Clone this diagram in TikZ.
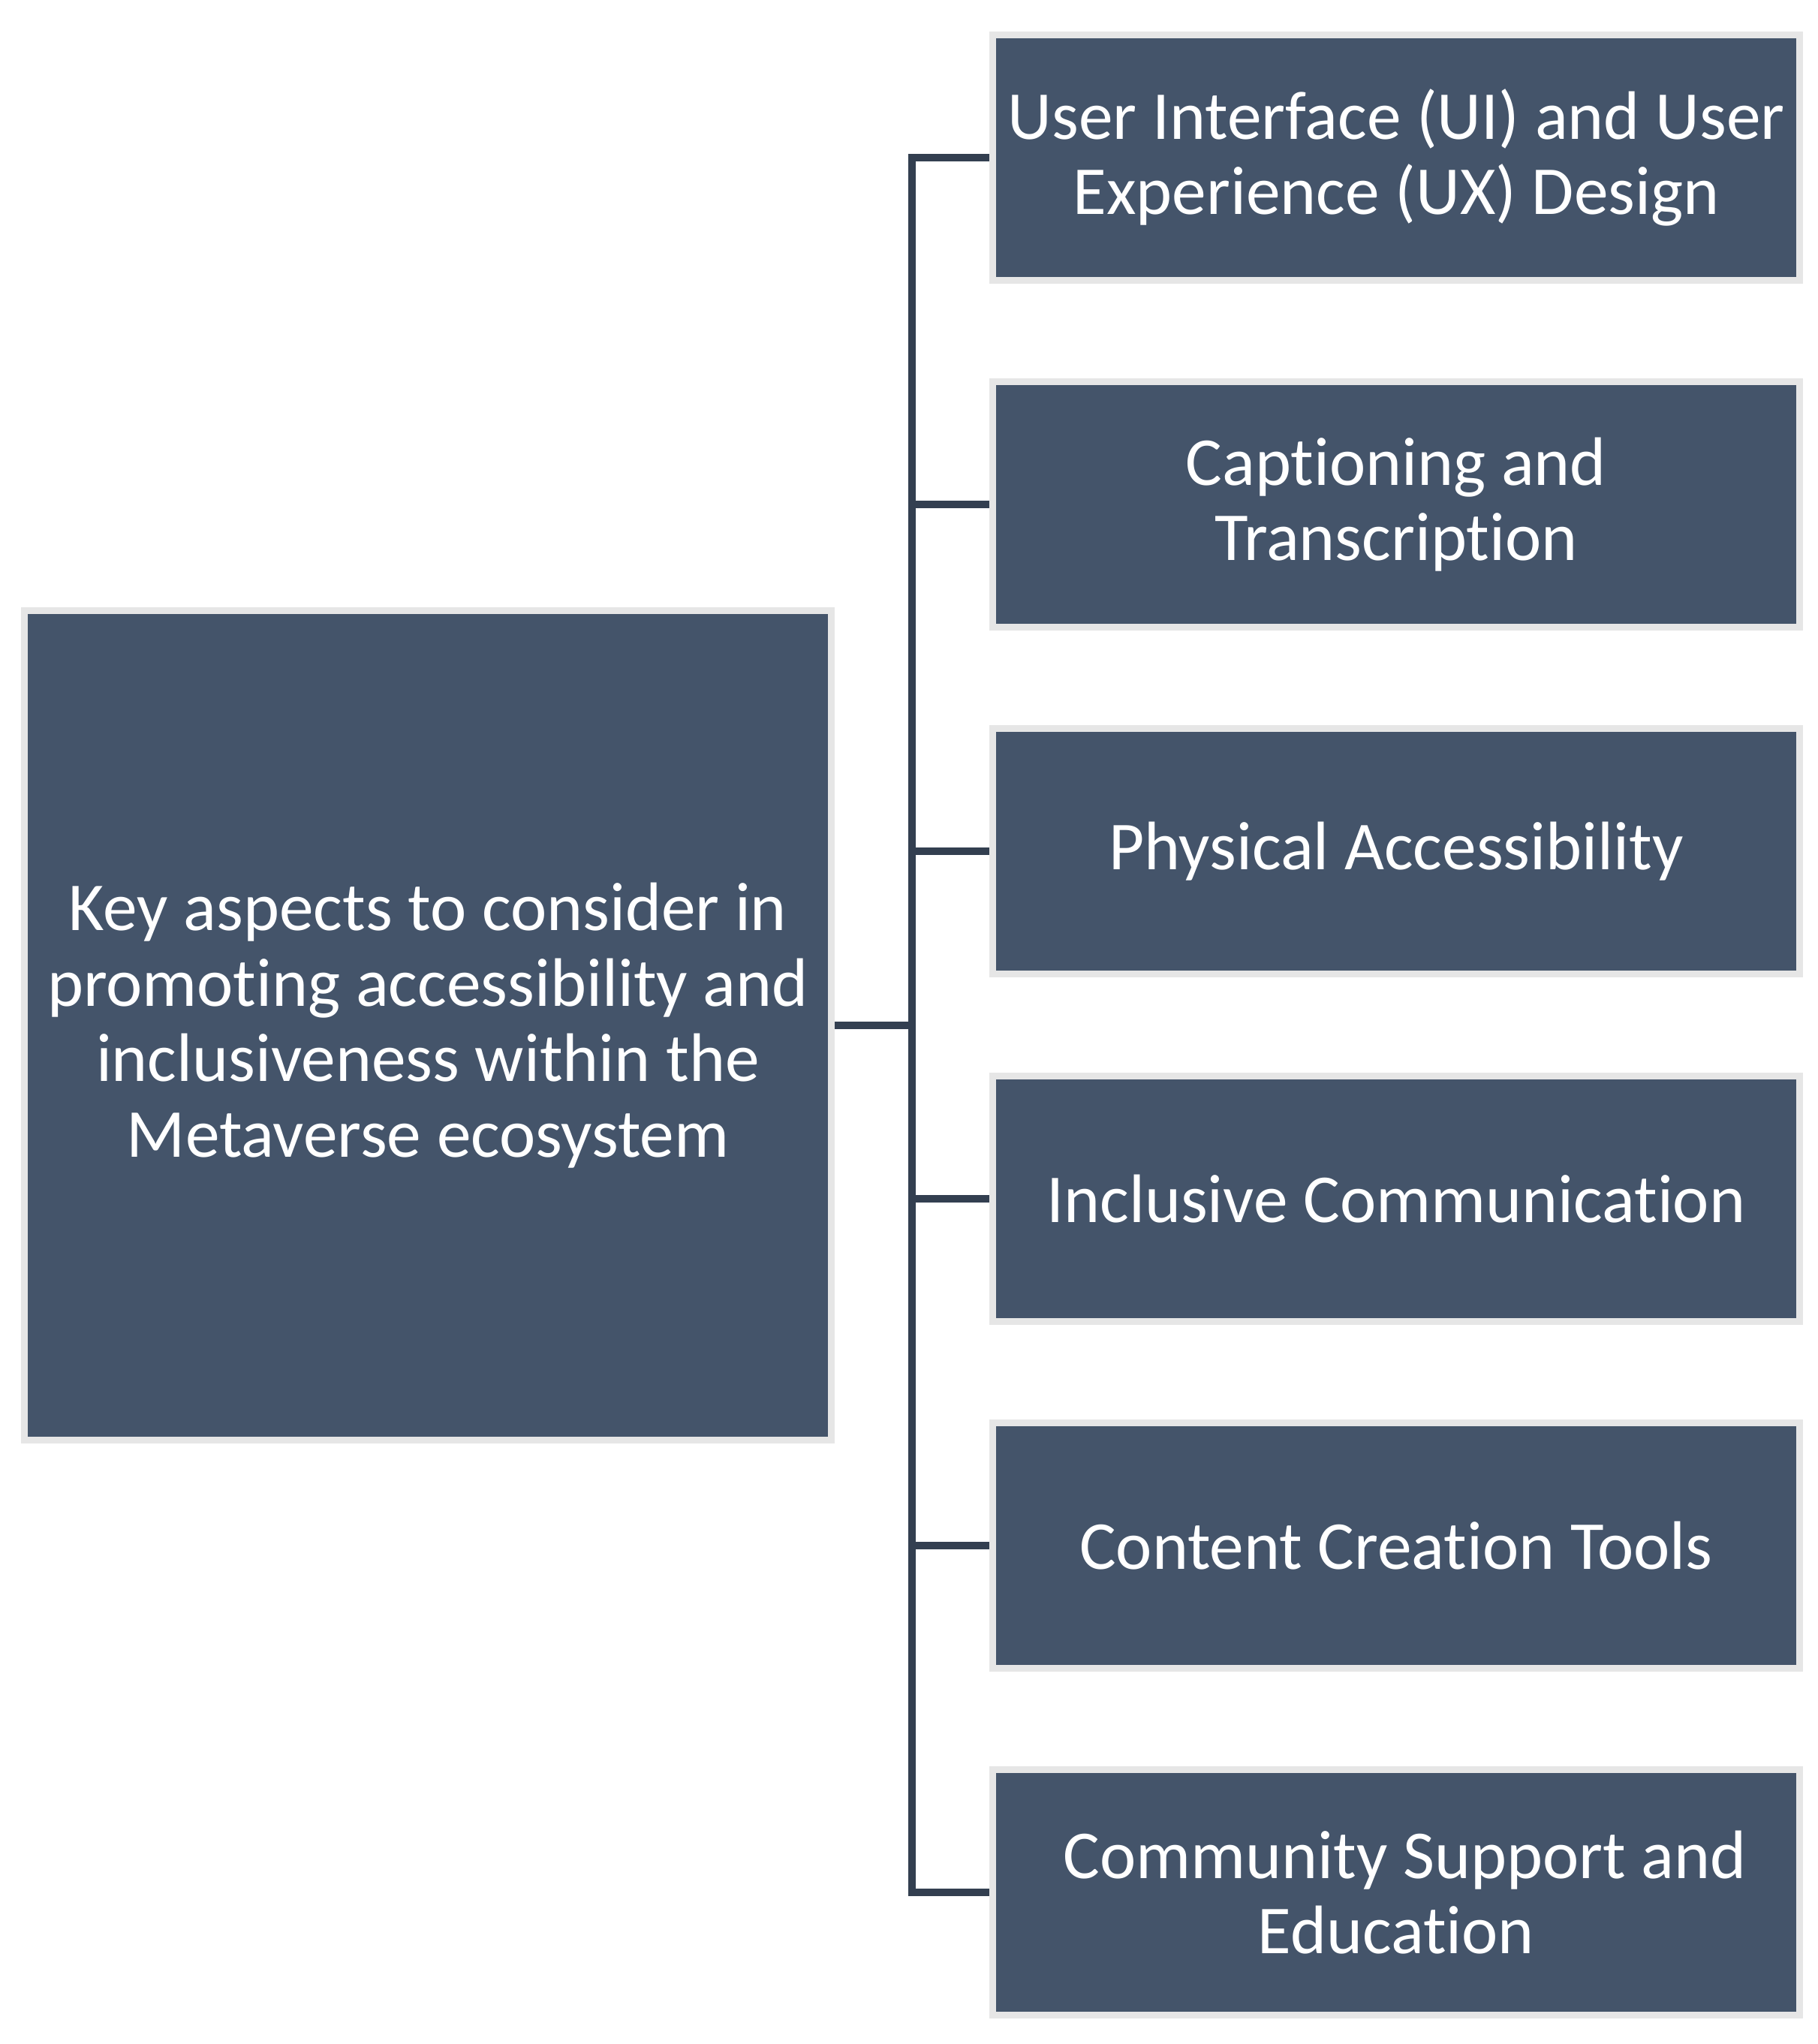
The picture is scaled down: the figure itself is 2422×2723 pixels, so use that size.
\documentclass[tikz,border=0pt]{standalone}
\usepackage{fontspec}
\setmainfont[Ligatures={NoCommon,NoContextual,NoRare},Contextuals=NoAlternate,RawFeature={-ccmp}]{Carlito}
\definecolor{boxfill}{HTML}{44546A}
\definecolor{boxrim}{HTML}{E6E6E6}
\definecolor{linkcol}{HTML}{333F50}
\begin{document}
\begin{tikzpicture}
  [x=0.01cm,y=-0.01cm,every node/.style={rectangle,fill=boxfill,draw=boxrim,line width=0.09cm,
   text=white,align=center,inner sep=0pt,font=\fontsize{26}{28.6}\selectfont}]
  \tikzstyle{aspect} = [minimum width=10.75cm,minimum height=3.27cm]
  \useasboundingbox (0,0) rectangle (2422,2723);
  \node[minimum width=10.75cm,minimum height=11.05cm] (n0) at (570,1366)
    {Key aspects to consider in\\promoting accessibility and\\inclusiveness within the\\Metaverse ecosystem};

\foreach \name /\y /\txt in {n1/210/{User Interface (UI) and User\\Experience (UX) Design},
    n2/672/{Captioning and\\Transcription}, n3/1134/{Physical Accessibility},
    n4/1597/{Inclusive Communication}, n5/2059/{Content Creation Tools},
    n6/2521/{\hspace*{0.26em}Community Support and\\Education}}
   \node[aspect] (\name) at (1860,\y) {\txt};

\foreach \name in {n1,n2,n3,n4,n5,n6}
   \draw[linkcol,line width=0.1cm] (n0.east) -- ++(103,0) |- (\name.west);

  \end{tikzpicture}
\end{document}
